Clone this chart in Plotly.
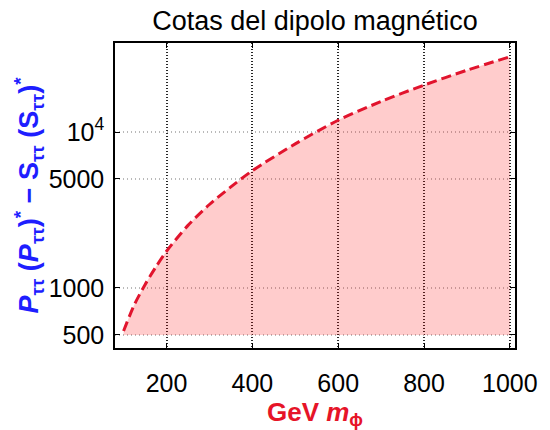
import plotly.graph_objects as go

# Data
m_phi = [100, 125, 150, 175, 200, 250, 300, 350, 400, 500, 600, 700, 800, 900, 1000]
bound = [530, 780, 1050, 1360, 1720, 2520, 3430, 4450, 5650, 8400, 11900, 15700,
         20000, 24900, 30400]
baseline = [500] * len(m_phi)

y_tickvals = [500, 1000, 5000, 10000]
y_ticktext = ["500", "1000", "5000", "10<sup>4</sup>"]
x_tickvals = [200, 400, 600, 800, 1000]

title_text = "Cotas del dipolo magnético"
x_title = "<b>GeV <i>m</i><sub>ϕ</sub></b>"
y_title = ("<b><i>P</i><sub>ττ</sub> (<i>P</i><sub>ττ</sub>)<sup>*</sup>"
           " − S<sub>ττ</sub> (S<sub>ττ</sub>)<sup>*</sup></b>")

FONT = "Liberation Sans, Arial, sans-serif"

fig = go.Figure()
fig.add_trace(go.Scatter(x=m_phi, y=baseline, mode="lines",
                         line=dict(width=0), showlegend=False, hoverinfo="skip"))
fig.add_trace(go.Scatter(x=m_phi, y=bound, mode="lines", fill="tonexty",
                         fillcolor="rgba(255,0,0,0.2)",
                         line=dict(color="rgb(225,20,45)", width=3, dash="10px,5px",
                                   shape="spline", smoothing=0.8),
                         showlegend=False))

fig.update_layout(
    width=550, height=430,
    margin=dict(l=115, r=30, t=43, b=82),
    paper_bgcolor="white", plot_bgcolor="white",
    font=dict(family=FONT, color="black"),
    title=dict(text=title_text, x=315/550, xref="container", xanchor="center",
               y=1 - 21/430, yref="container", yanchor="middle",
               font=dict(size=27, color="black", family=FONT)),
)

fig.update_xaxes(
    range=[80, 1012], tickvals=x_tickvals,
    showline=True, linecolor="black", linewidth=1.5, mirror="ticks",
    ticks="inside", ticklen=5, tickcolor="black",
    showgrid=True, gridcolor="rgb(40,40,40)", griddash="1px,2px", gridwidth=1.5,
    zeroline=False,
    tickfont=dict(size=25, color="black"),
    ticklabelstandoff=12,
    title=dict(text=x_title, font=dict(size=26, color="rgb(230,20,40)"), standoff=1),
)

fig.update_yaxes(
    type="log", range=[2.615, 4.571],
    tickvals=y_tickvals, ticktext=y_ticktext,
    showline=True, linecolor="black", linewidth=1.5, mirror="ticks",
    ticks="inside", ticklen=5, tickcolor="black",
    showgrid=True, gridcolor="rgb(185,185,185)", griddash="1px,3px", gridwidth=1.5,
    zeroline=False,
    tickfont=dict(size=25, color="black"),
    ticklabelstandoff=4,
    title=dict(text=y_title, font=dict(size=27, color="rgb(30,30,255)"), standoff=2),
)

fig.write_html("out.html")
